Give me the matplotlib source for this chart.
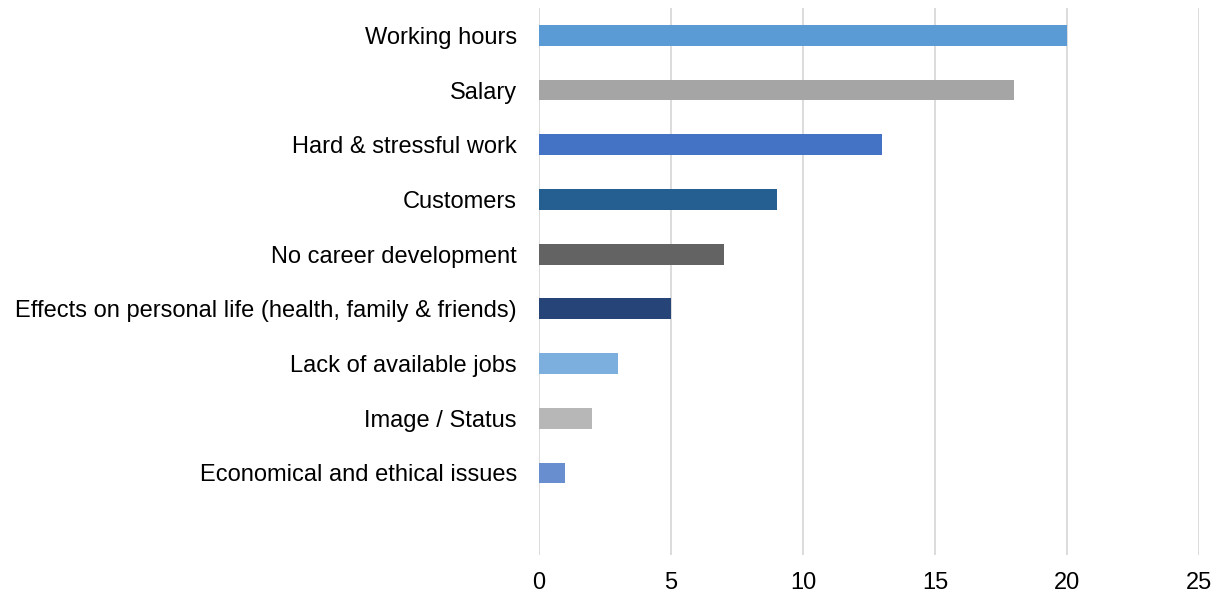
#-  plot.py ~~
#
#   Horizontal bar chart of reasons for leaving the job, drawn in the
#   style of an Excel chart (light vertical grid, no spines).

import matplotlib
matplotlib.use("Agg")
import matplotlib.pyplot as pyplot

###

categories = [
    "Working hours",
    "Salary",
    "Hard & stressful work",
    "Customers",
    "No career development",
    "Effects on personal life (health, family & friends)",
    "Lack of available jobs",
    "Image / Status",
    "Economical and ethical issues",
]
values = [20, 18, 13, 9, 7, 5, 3, 2, 1]
colors = ["#5B9BD5", "#A5A5A5", "#4472C4", "#255E91", "#636363",
          "#264478", "#7CAFDD", "#B7B7B7", "#698ED0"]
xticks = [0, 5, 10, 15, 20, 25]

###

def main():

    pyplot.rcParams["font.family"] = ["Liberation Sans", "DejaVu Sans"]

    fig = pyplot.figure(figsize=(12.27, 5.94), dpi=100)
    ax = fig.add_axes([539 / 1227, 1 - 555 / 594, 660 / 1227, 547 / 594])

  # One empty slot below the last bar, as in the original
    ypos = list(range(len(categories)))
    ax.barh(ypos, values, height=0.38, color=colors, zorder=3)

    ax.set_ylim(len(categories) + 0.5, -0.5)
    ax.set_yticks(ypos)
    ax.set_yticklabels(categories, fontsize=17)

    ax.set_xlim(0, 25)
    ax.set_xticks(xticks)
    ax.set_xticklabels([str(t) for t in xticks], fontsize=17)

    ax.grid(axis="x", color="#D9D9D9", linewidth=1.3, zorder=0)
    for side in ax.spines.values():
        side.set_visible(False)
    ax.tick_params(length=0)
    ax.tick_params(axis="y", pad=16)
    ax.tick_params(axis="x", pad=12)

    fig.savefig("out.png", dpi=100)

###

if __name__ == "__main__":
    main()
